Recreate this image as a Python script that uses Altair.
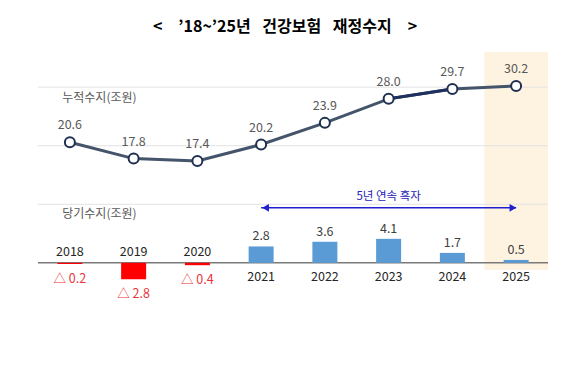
import altair as alt
import pandas as pd

years = [2018, 2019, 2020, 2021, 2022, 2023, 2024, 2025]
cumulative = [20.6, 17.8, 17.4, 20.2, 23.9, 28.0, 29.7, 30.2]
annual = [-0.2, -2.8, -0.4, 2.8, 3.6, 4.1, 1.7, 0.5]
grid_values = [10, 20, 30]
title_text = "<\u2003’18~’25년\u2002\u00a0건강보험\u2002\u00a0재정수지\u2003>"
cum_label = "누적수지(조원)"
ann_label = "당기수지(조원)"
streak_label = "5년 연속 흑자"
streak_years = [2021, 2025]
highlight_year = 2025

FONT = "Noto Sans CJK KR"
XD = [2017.5, 2025.5]
YD = [-6, 36]

df = pd.DataFrame({"year": years, "cum": cumulative, "ann": annual})
df["zero"] = 0
df["cum_txt"] = df["cum"].map(lambda v: f"{v:.1f}")
df["ann_txt"] = df["ann"].map(lambda v: f"{v:.1f}" if v > 0 else f"△ {abs(v):.1f}")
df["year_txt"] = df["year"].astype(str)

xs = alt.Scale(domain=XD, padding=0, nice=False)
ys = alt.Scale(domain=YD, nice=False)


def X(f="year"):
    return alt.X(f"{f}:Q", scale=xs, axis=None)


def Y(f):
    return alt.Y(f"{f}:Q", scale=ys, axis=None)


base = alt.Chart(df)

highlight = alt.Chart(pd.DataFrame({
    "a": [highlight_year - 0.5], "b": [highlight_year + 0.5], "t": [36], "u": [-1.2],
})).mark_rect(color="#FEF3E0").encode(x=X("a"), x2="b:Q", y=Y("t"), y2="u:Q")

grid = alt.Chart(pd.DataFrame({
    "g": grid_values, "a": [XD[0]] * 3, "b": [XD[1]] * 3,
})).mark_rule(color="#E3E3E3", strokeWidth=1).encode(x=X("a"), x2="b:Q", y=Y("g"))

baseline = alt.Chart(pd.DataFrame({"z": [0], "a": [XD[0]], "b": [XD[1]]})).mark_rule(
    color="#7A7A7A", strokeWidth=1.5
).encode(x=X("a"), x2="b:Q", y=Y("z"))

bars = base.mark_bar(size=25).encode(
    x=X(), y=Y("ann"), y2="zero:Q",
    color=alt.condition("datum.ann > 0", alt.value("#5B9BD5"), alt.value("#FF0000")),
)

pos_val = base.transform_filter("datum.ann > 0").mark_text(
    font=FONT, fontSize=12.5, color="#404040", dy=-10
).encode(x=X(), y=Y("ann"), text="ann_txt:N")

neg_val = base.transform_filter("datum.ann <= 0").mark_text(
    font=FONT, fontSize=12.5, color="#E8353A", dy=15
).encode(x=X(), y=Y("ann"), text="ann_txt:N")

pos_year = base.transform_filter("datum.ann > 0").mark_text(
    font=FONT, fontSize=12.5, color="#262626", dy=14
).encode(x=X(), y=Y("zero"), text="year_txt:N")

neg_year = base.transform_filter("datum.ann <= 0").mark_text(
    font=FONT, fontSize=12.5, color="#262626", dy=-11
).encode(x=X(), y=Y("zero"), text="year_txt:N")

line = base.mark_line(color="#44546A", strokeWidth=3).encode(x=X(), y=Y("cum"))
line_dark = base.transform_filter("datum.year >= 2023 && datum.year <= 2024").mark_line(
    color="#1F2F60", strokeWidth=3
).encode(x=X(), y=Y("cum"))

pts = base.mark_point(filled=True, fill="white", stroke="#1F2F50", strokeWidth=2, size=100, opacity=1).encode(
    x=X(), y=Y("cum")
)

cum_val = base.mark_text(font=FONT, fontSize=12.5, color="#595959", dy=-17).encode(
    x=X(), y=Y("cum"), text="cum_txt:N"
)

labels = alt.Chart(pd.DataFrame({
    "t": [cum_label, ann_label], "x": [2017.88, 2017.88], "y": [28.1, 8.35],
})).mark_text(font=FONT, fontSize=12, color="#595959", align="left").encode(
    x=X("x"), y=Y("y"), text="t:N"
)

arrow = alt.Chart(pd.DataFrame({
    "a": [streak_years[0]], "b": [streak_years[1]], "y": [9.4],
})).mark_rule(color="#1F1FD0", strokeWidth=1.5).encode(x=X("a"), x2="b:Q", y=Y("y"))

heads = alt.Chart(pd.DataFrame({
    "x": [streak_years[0] + 0.07, streak_years[1] - 0.05],
    "y": [9.4, 9.4],
    "s": ["triangle-left", "triangle-right"],
})).mark_point(filled=True, color="#1F1FD0", size=60, opacity=1).encode(
    x=X("x"), y=Y("y"),
    shape=alt.Shape("s:N", scale=None, legend=None),
)

streak_txt = alt.Chart(pd.DataFrame({"t": [streak_label], "x": [2023.0], "y": [11.3]})).mark_text(
    font=FONT, fontSize=11.5, color="#2323B8"
).encode(x=X("x"), y=Y("y"), text="t:N")

chart = alt.layer(
    highlight, grid, baseline, bars, pos_val, neg_val, pos_year, neg_year,
    line, line_dark, pts, cum_val, labels, arrow, heads, streak_txt,
).properties(
    width=510, height=246,
    title=alt.TitleParams(title_text, font=FONT, fontSize=16, fontWeight="bold", color="#000000",
                          anchor="middle", offset=17, dx=-8),
    autosize=alt.AutoSizeParams(type="none"),
    padding={"left": 30, "top": 44, "right": 25, "bottom": 81},
).configure_view(stroke=None)

chart.save("out.html", embed_options={"renderer": "svg", "actions": False})
